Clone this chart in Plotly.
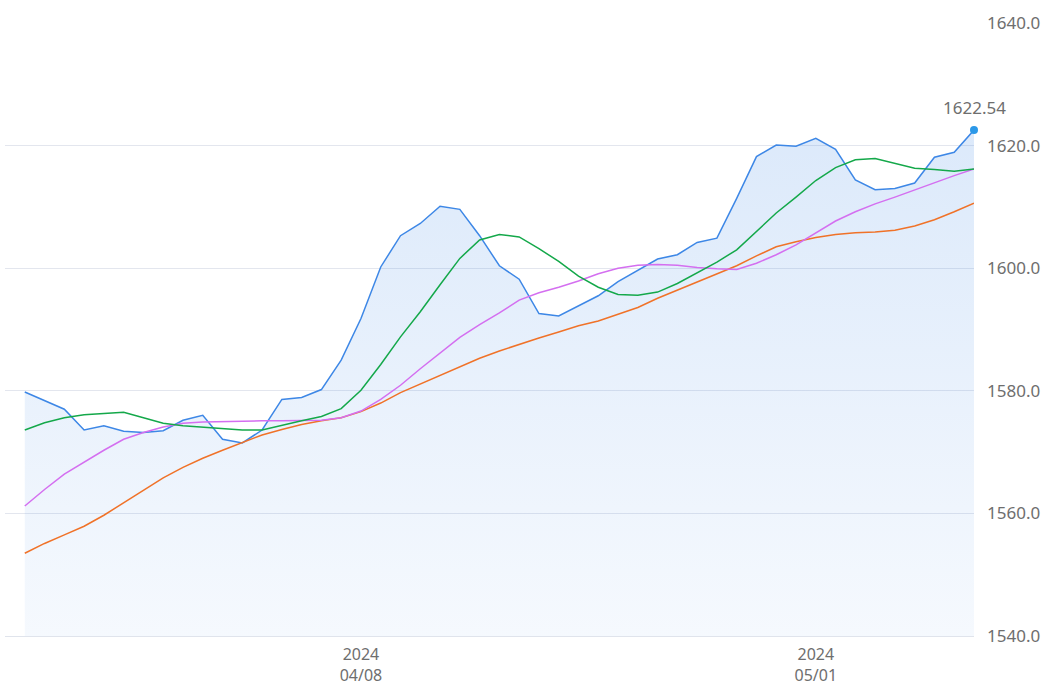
import plotly.graph_objects as go
import pandas as pd

dates = pd.date_range("2024-03-22", "2024-05-09", freq="D").strftime("%Y-%m-%d").tolist()

price = [1579.8, 1578.4, 1577.0, 1573.6, 1574.3, 1573.4, 1573.2, 1573.5, 1575.2, 1576.0,
         1572.1, 1571.5, 1573.6, 1578.6, 1578.9, 1580.2, 1585.0, 1591.8, 1600.2, 1605.3,
         1607.3, 1610.1, 1609.6, 1605.3, 1600.4, 1598.2, 1592.6, 1592.2, 1593.8, 1595.5,
         1597.8, 1599.7, 1601.5, 1602.2, 1604.2, 1604.9, 1611.4, 1618.2, 1620.1, 1619.9,
         1621.2, 1619.4, 1614.4, 1612.8, 1613.0, 1613.9, 1618.1, 1618.9, 1622.54]

ma_green = [1573.6, 1574.8, 1575.6, 1576.1, 1576.3, 1576.5, 1575.6, 1574.7, 1574.3, 1574.1,
            1573.9, 1573.6, 1573.6, 1574.4, 1575.1, 1575.8, 1577.1, 1580.1, 1584.3, 1588.8,
            1592.9, 1597.3, 1601.6, 1604.6, 1605.5, 1605.1, 1603.2, 1601.1, 1598.7, 1596.9,
            1595.7, 1595.6, 1596.1, 1597.5, 1599.2, 1601.0, 1603.0, 1606.0, 1609.0, 1611.6,
            1614.3, 1616.4, 1617.7, 1617.9, 1617.1, 1616.3, 1616.1, 1615.8, 1616.2]

ma_pink = [1561.2, 1563.9, 1566.4, 1568.4, 1570.3, 1572.1, 1573.2, 1574.1, 1574.7, 1574.9,
           1575.0, 1575.0, 1575.1, 1575.1, 1575.1, 1575.2, 1575.6, 1576.7, 1578.6, 1580.9,
           1583.6, 1586.1, 1588.7, 1590.8, 1592.7, 1594.8, 1596.0, 1596.9, 1597.9, 1599.1,
           1600.0, 1600.5, 1600.6, 1600.5, 1600.1, 1599.9, 1599.8, 1600.8, 1602.2, 1603.8,
           1605.7, 1607.7, 1609.2, 1610.5, 1611.6, 1612.8, 1613.9, 1615.1, 1616.2]

ma_orange = [1553.5, 1555.1, 1556.5, 1557.9, 1559.7, 1561.7, 1563.8, 1565.8, 1567.5, 1569.0,
             1570.3, 1571.5, 1572.8, 1573.7, 1574.5, 1575.1, 1575.6, 1576.6, 1578.0, 1579.7,
             1581.1, 1582.5, 1583.9, 1585.3, 1586.5, 1587.6, 1588.6, 1589.6, 1590.6, 1591.4,
             1592.5, 1593.6, 1595.1, 1596.4, 1597.8, 1599.1, 1600.4, 1602.0, 1603.5, 1604.3,
             1605.0, 1605.5, 1605.8, 1605.9, 1606.2, 1606.9, 1607.9, 1609.2, 1610.6]

tick_dates = ["2024-04-08", "2024-05-01"]
tick_text = ["2024<br>04/08", "2024<br>05/01"]
y_ticks = [1540, 1560, 1580, 1600, 1620, 1640]

FONT = "Noto Sans"
GRAY = "#6e6e6e"

fig = go.Figure()
fig.add_trace(go.Scatter(
    x=dates, y=price, mode="lines",
    line=dict(color="#3d87e6", width=1.5),
    fill="tozeroy",
    fillgradient=dict(type="vertical",
                      colorscale=[[0, "rgba(61,135,230,0.05)"], [1, "rgba(61,135,230,0.18)"]],
                      start=1540, stop=1622),
    hoverinfo="skip", showlegend=False))
fig.add_trace(go.Scatter(x=dates, y=ma_orange, mode="lines",
                         line=dict(color="#f07228", width=1.5), showlegend=False))
fig.add_trace(go.Scatter(x=dates, y=ma_pink, mode="lines",
                         line=dict(color="#d46ff0", width=1.5), showlegend=False))
fig.add_trace(go.Scatter(x=dates, y=ma_green, mode="lines",
                         line=dict(color="#14a84a", width=1.5), showlegend=False))
fig.add_trace(go.Scatter(x=[dates[-1]], y=[price[-1]], mode="markers",
                         marker=dict(color="#2b98e8", size=8), cliponaxis=False,
                         showlegend=False))

fig.add_annotation(x=dates[-1], y=price[-1], text=f"{price[-1]:.2f}",
                   showarrow=False, yshift=23, xanchor="center", yanchor="middle",
                   font=dict(family=FONT, size=17, color=GRAY))

fig.update_layout(
    width=1060, height=696,
    margin=dict(l=5, r=86, t=23, b=60),
    paper_bgcolor="white", plot_bgcolor="white",
    font=dict(family=FONT, size=16, color=GRAY),
    xaxis=dict(type="date", range=["2024-03-21", "2024-05-09"],
               tickvals=tick_dates, ticktext=tick_text,
               showgrid=False, zeroline=False, showline=True, linecolor="#e0e4ec",
               ticks="", ticklabelstandoff=4,
               tickfont=dict(family=FONT, size=16, color=GRAY)),
    yaxis=dict(side="right", range=[1540, 1640], tickvals=y_ticks,
               tickformat=".1f", showgrid=True, gridcolor="#e3e6ee", gridwidth=1,
               zeroline=False, ticks="", ticklabelstandoff=12,
               tickfont=dict(family=FONT, size=17, color=GRAY)),
)

fig.write_html("out.html")
